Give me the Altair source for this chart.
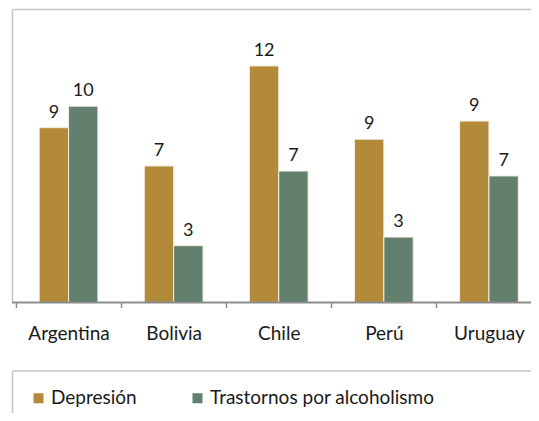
import altair as alt
import pandas as pd

countries = ["Argentina", "Bolivia", "Chile", "Perú", "Uruguay"]
series = ["Depresión", "Trastornos por alcoholismo"]
depresion = [8.95, 6.99, 12.11, 8.36, 9.29]
alcoholismo = [10.05, 2.91, 6.73, 3.35, 6.48]
label_depresion = ["9", "7", "12", "9", "9"]
label_alcoholismo = ["10", "3", "7", "3", "7"]
colors = ["#b38a3a", "#63806f"]

rows = []
for i, c in enumerate(countries):
    rows.append({"pais": c, "serie": series[0], "valor": depresion[i], "etiqueta": label_depresion[i]})
    rows.append({"pais": c, "serie": series[1], "valor": alcoholismo[i], "etiqueta": label_alcoholismo[i]})
df = pd.DataFrame(rows)

FONT = "Lato"
H = 293

x_enc = alt.X(
    "pais:N", sort=countries,
    scale=alt.Scale(range=[3, 528.5], paddingInner=0, paddingOuter=0),
    axis=alt.Axis(title=None, labelAngle=0, domain=False, tickBand="extent",
                  tickColor="#8c8c8c", tickWidth=1.5, tickSize=5,
                  labelFontSize=19, labelFont=FONT, labelColor="#1a1a1a",
                  labelPadding=17, grid=False),
)
xo_enc = alt.XOffset("serie:N", sort=series,
                     scale=alt.Scale(paddingOuter=0.79, paddingInner=0))
y_enc = alt.Y("valor:Q", scale=alt.Scale(domain=[0, 15], nice=False), axis=None)

base = alt.Chart(df)

bars = base.mark_bar(stroke="#f3eee2", strokeWidth=1).encode(
    x=x_enc, xOffset=xo_enc, y=y_enc,
    color=alt.Color(
        "serie:N", sort=series,
        scale=alt.Scale(domain=series, range=colors),
        legend=alt.Legend(title=None, orient="none", legendX=16, legendY=379,
                          direction="horizontal", symbolType="square",
                          symbolSize=100, symbolStrokeWidth=0,
                          labelFontSize=19, labelFont=FONT, labelColor="#1a1a1a",
                          labelOffset=3, columnPadding=51, padding=0,
                          labelLimit=400),
    ),
)

texts = base.mark_text(baseline="middle", dy=-15, fontSize=18, font=FONT,
                       color="#1a1a1a").encode(
    x=x_enc, xOffset=xo_enc, y=y_enc, text="etiqueta:N"
)

one = pd.DataFrame({"a": [0]})
frame_color = "#c4c4c4"
top_line = alt.Chart(one).mark_rule(color=frame_color, strokeWidth=1.5).encode(
    x=alt.value(-0.5), x2=alt.value(700), y=alt.value(0))
left_line = alt.Chart(one).mark_rule(color=frame_color, strokeWidth=1.5).encode(
    x=alt.value(-0.5), y=alt.value(0), y2=alt.value(H))
baseline = alt.Chart(one).mark_rule(color="#8c8c8c", strokeWidth=1.8).encode(
    x=alt.value(-1), x2=alt.value(700), y=alt.value(H))
legend_top = alt.Chart(one).mark_rule(color=frame_color, strokeWidth=1.5).encode(
    x=alt.value(-0.5), x2=alt.value(700), y=alt.value(361.5))
legend_left = alt.Chart(one).mark_rule(color=frame_color, strokeWidth=1.5).encode(
    x=alt.value(-0.5), y=alt.value(361.5), y2=alt.value(420))

chart = alt.layer(
    top_line, left_line, legend_top, legend_left, bars, texts, baseline
).properties(
    width=518, height=H,
    autosize=alt.AutoSizeParams(type="none"),
    padding={"left": 5, "top": 1.5, "right": 0, "bottom": 110.5},
).configure_view(stroke=None)

chart.save("out.html", embed_options={"renderer": "svg", "actions": False})
